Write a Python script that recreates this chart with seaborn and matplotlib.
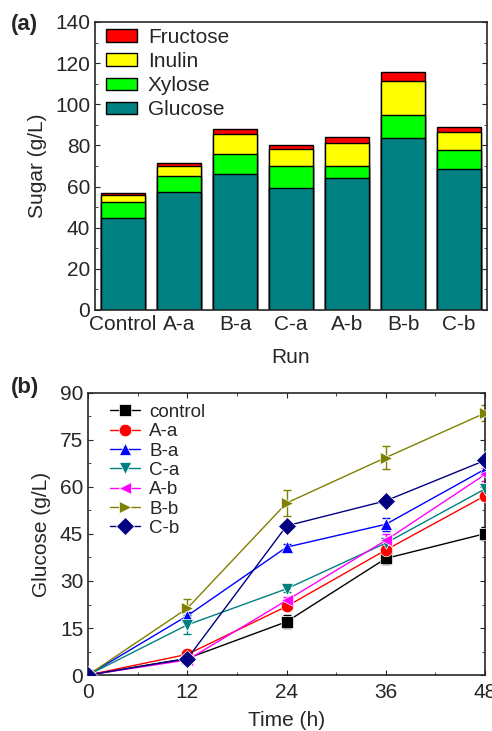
import numpy as np
import pandas as pd
import matplotlib
matplotlib.use("Agg")
import matplotlib.pyplot as plt
import seaborn as sns
from matplotlib.ticker import MultipleLocator

sns.set_style("ticks")
plt.rcParams['font.family'] = ['Liberation Sans', 'DejaVu Sans']

# ---------- data panel (a) ----------
runs = ["Control", "A-a", "B-a", "C-a", "A-b", "B-b", "C-b"]
glucose = [44.9, 57.2, 66.1, 59.3, 64.0, 83.6, 68.4]
xylose = [7.4, 7.9, 9.9, 10.5, 6.2, 11.0, 9.2]
inulin = [3.6, 5.1, 9.4, 8.3, 10.8, 16.7, 8.8]
fructose = [1.1, 1.4, 2.4, 2.3, 3.1, 4.4, 2.4]

# ---------- data panel (b) ----------
time_h = [0, 12, 24, 36, 48]
series_names = ["control", "A-a", "B-a", "C-a", "A-b", "B-b", "C-b"]
g_control = [0, 5.3, 17.0, 37.2, 45.1]
g_Aa = [0, 6.6, 21.9, 39.9, 57.2]
g_Ba = [0, 18.9, 40.8, 48.1, 65.7]
g_Ca = [0, 16.0, 27.5, 42.1, 59.4]
g_Ab = [0, 4.8, 23.8, 43.0, 64.0]
g_Bb = [0, 21.3, 54.9, 69.4, 83.6]
g_Cb = [0, 5.2, 47.6, 55.6, 68.5]
e_control = [0, 0.8, 2.0, 1.8, 2.0]
e_Aa = [0, 1.0, 1.2, 1.5, 1.5]
e_Ba = [0, 1.2, 1.0, 2.0, 1.5]
e_Ca = [0, 3.0, 1.0, 1.5, 1.5]
e_Ab = [0, 0.8, 1.0, 2.0, 2.0]
e_Bb = [0, 2.8, 4.0, 3.8, 2.5]
e_Cb = [0, 0.8, 1.0, 1.0, 1.5]

fig = plt.figure(figsize=(4.92, 7.31), dpi=100)
FS = 15

# ---------------- panel (a) ----------------
ax1 = fig.add_axes([0.193, 0.576, 0.797, 0.394])
layers = [
    ("Fructose", np.array(glucose) + np.array(xylose) + np.array(inulin) + np.array(fructose), "#FF0000"),
    ("Inulin", np.array(glucose) + np.array(xylose) + np.array(inulin), "#FFFF00"),
    ("Xylose", np.array(glucose) + np.array(xylose), "#00FF00"),
    ("Glucose", np.array(glucose), "#008080"),
]
for name, vals, col in layers:
    df = pd.DataFrame({"Run": runs, "Sugar": vals})
    sns.barplot(data=df, x="Run", y="Sugar", color=col, edgecolor="black",
                linewidth=1.0, width=0.8, saturation=1, label=name, ax=ax1)
ax1.set_ylim(0, 140)
ax1.set_xlim(-0.5, 6.5)
ax1.yaxis.set_major_locator(MultipleLocator(20))
ax1.yaxis.set_minor_locator(MultipleLocator(10))
ax1.set_ylabel("Sugar (g/L)", fontsize=FS, labelpad=6)
ax1.set_xlabel("Run", fontsize=FS, labelpad=10)
ax1.tick_params(axis="both", which="both", direction="in", labelsize=FS,
                right=True, top=False)
ax1.tick_params(axis="x", length=0, pad=4)
for sp in ax1.spines.values():
    sp.set_visible(True)
    sp.set_linewidth(1.2)
ax1.legend(loc="upper left", frameon=False, fontsize=FS,
           handlelength=1.5, handleheight=0.55, labelspacing=0.25,
           bbox_to_anchor=(0.01, 1.005), borderaxespad=0.15,
           handletextpad=0.5, borderpad=0.2)
fig.text(0.022, 0.966, "(a)", fontsize=FS + 1, fontweight="bold", va="center")

# ---------------- panel (b) ----------------
ax2 = fig.add_axes([0.179, 0.0766, 0.807, 0.3858])
colors = ["black", "#FF0000", "#0000FF", "#008080", "#FF00FF", "#808000", "#000080"]
markers = ["s", "o", "^", "v", "<", ">", "D"]
gvals = [g_control, g_Aa, g_Ba, g_Ca, g_Ab, g_Bb, g_Cb]
evals = [e_control, e_Aa, e_Ba, e_Ca, e_Ab, e_Bb, e_Cb]

long = pd.concat([pd.DataFrame({"Time": time_h, "Glucose": g, "Run": n})
                  for n, g in zip(series_names, gvals)], ignore_index=True)
for n, g, e, c in zip(series_names, gvals, evals, colors):
    ax2.errorbar(time_h, g, yerr=e, fmt="none", ecolor=c, elinewidth=1,
                 capsize=3, capthick=1, zorder=2)
sns.lineplot(data=long, x="Time", y="Glucose", hue="Run", style="Run",
             palette=dict(zip(series_names, colors)),
             markers=dict(zip(series_names, markers)), dashes=False,
             markersize=9, markeredgewidth=0.5, linewidth=1.0, ax=ax2, zorder=3)
ax2.set_xlim(0, 48)
ax2.set_ylim(0, 90)
ax2.xaxis.set_major_locator(MultipleLocator(12))
ax2.xaxis.set_minor_locator(MultipleLocator(6))
ax2.yaxis.set_major_locator(MultipleLocator(15))
ax2.yaxis.set_minor_locator(MultipleLocator(7.5))
ax2.set_xlabel("Time (h)", fontsize=FS, labelpad=6)
ax2.set_ylabel("Glucose (g/L)", fontsize=FS, labelpad=6)
ax2.tick_params(axis="both", which="both", direction="in", labelsize=FS,
                right=True, top=True)
ax2.tick_params(axis="x", pad=6)
for sp in ax2.spines.values():
    sp.set_visible(True)
    sp.set_linewidth(1.2)
ax2.legend(loc="upper left", frameon=False, fontsize=FS - 1.5,
           handlelength=1.6, labelspacing=0.12, bbox_to_anchor=(0.02, 1.012),
           borderaxespad=0.3, handletextpad=0.5, borderpad=0.45)
fig.text(0.022, 0.47, "(b)", fontsize=FS + 1, fontweight="bold", va="center")

fig.savefig("out.png", dpi=100)
